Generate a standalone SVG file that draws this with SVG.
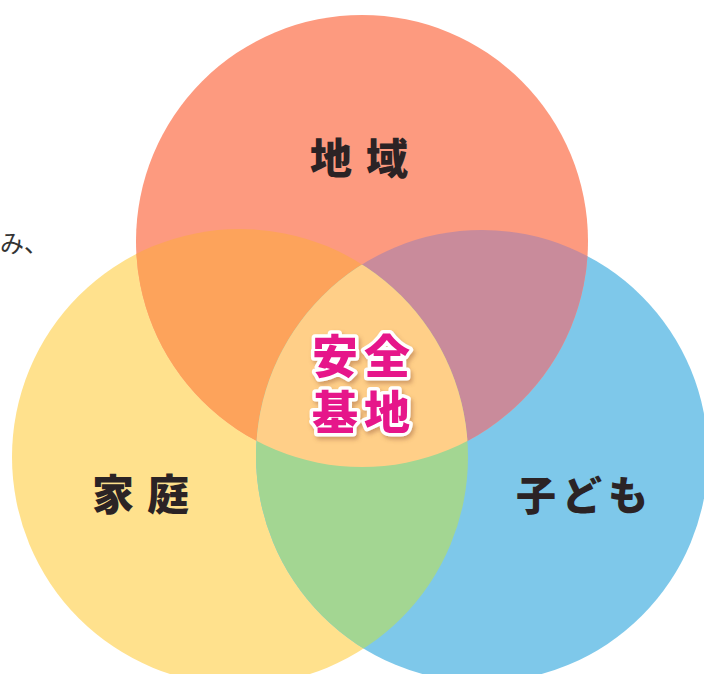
<svg xmlns="http://www.w3.org/2000/svg" width="704" height="674" viewBox="0 0 704 674">
  <style>
    .lbl { font-family: "Noto Sans CJK JP", "Noto Sans CJK SC", sans-serif; font-weight: 900; fill: #2b2325; text-anchor: middle; }
    .core { font-family: "Noto Sans CJK JP", "Noto Sans CJK SC", sans-serif; font-weight: 900; fill: #e6198a; stroke: #ffffff; stroke-width: 7; stroke-linejoin: round; paint-order: stroke; text-anchor: middle; font-size: 46px; letter-spacing: 6px; }
    .side { font-family: "Noto Sans CJK JP", "Noto Sans CJK SC", sans-serif; fill: #333333; font-size: 24px; }
  </style>
  <defs>
    <clipPath id="cTop"><circle cx="362" cy="241" r="226"/></clipPath>
    <clipPath id="cLeft"><circle cx="240" cy="457" r="228"/></clipPath>
    <clipPath id="cRight"><circle cx="482" cy="456" r="226"/></clipPath>
    <filter id="shadow" x="-20%" y="-20%" width="140%" height="140%">
      <feDropShadow dx="2" dy="3" stdDeviation="2" flood-color="#9a5a3a" flood-opacity="0.45"/>
    </filter>
  </defs>
  <rect width="704" height="674" fill="#ffffff"/>
  <text class="side" x="0" y="252">み、</text>

  <g id="katei">
    <circle cx="240" cy="457" r="228" fill="#ffe18d"/>
  </g>
  <g id="kodomo">
    <circle cx="482" cy="456" r="226" fill="#7ec8ea"/>
  </g>
  <g id="chiiki">
    <circle cx="362" cy="241" r="226" fill="#fd9a7f"/>
  </g>

  <g id="overlaps">
    <g clip-path="url(#cTop)"><circle cx="240" cy="457" r="228" fill="#fda35b"/></g>
    <g clip-path="url(#cTop)"><circle cx="482" cy="456" r="226" fill="#c98b9b"/></g>
    <g clip-path="url(#cLeft)"><circle cx="482" cy="456" r="226" fill="#a3d692"/></g>
    <g clip-path="url(#cTop)"><g clip-path="url(#cLeft)"><circle cx="482" cy="456" r="226" fill="#ffcf88"/></g></g>
  </g>

  <g id="labels">
    <text class="lbl" x="366" y="174" font-size="42" letter-spacing="14">地域</text>
    <text class="lbl" x="147" y="510" font-size="42" letter-spacing="13">家庭</text>
    <text class="lbl" x="585" y="510" font-size="40" letter-spacing="6">子ども</text>
  </g>

  <g id="anzen-kichi" filter="url(#shadow)">
    <text class="core" x="364" y="373">安全</text>
    <text class="core" x="364" y="429">基地</text>
  </g>

  <g id="connectors"></g>
</svg>
